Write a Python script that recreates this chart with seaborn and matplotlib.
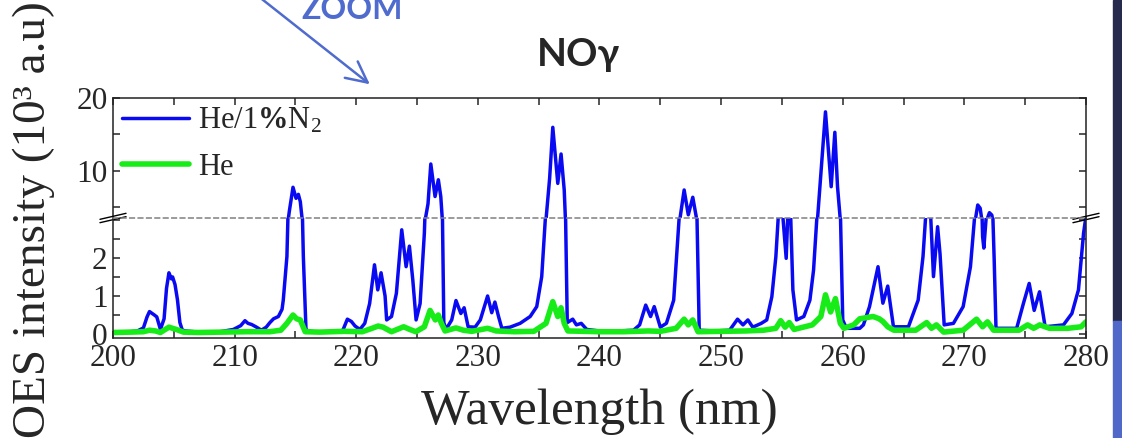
import numpy as np
import pandas as pd
import matplotlib.pyplot as plt
import seaborn as sns
from matplotlib.patches import Rectangle, FancyArrowPatch
from matplotlib.ticker import MultipleLocator, FixedLocator

# ── data (wavelength in nm, intensity in 10^3 a.u.) ───────────────────────────
wl_n2 = [200.0, 201.0, 202.0, 202.5, 202.8, 203.0, 203.4, 203.6, 203.9, 204.2,
         204.4, 204.6, 204.8, 204.9, 205.1, 205.3, 205.5, 205.7, 206.0, 207.0,
         208.0, 208.8, 209.9, 210.5, 210.85, 211.1, 211.4, 211.8, 212.2, 212.6,
         212.9, 213.2, 213.6, 213.9, 214.0, 214.3, 214.5, 214.8, 215.05, 215.24,
         215.4, 215.5, 215.65, 215.87, 216.5, 217.5, 218.5, 218.9, 219.27, 219.6,
         219.9, 220.3, 220.7, 221.1, 221.5, 221.77, 222.04, 222.37, 222.5, 222.9,
         223.3, 223.74, 224.1, 224.37, 224.65, 224.92, 225.25, 225.6, 225.9, 226.13,
         226.48, 226.75, 226.95, 227.08, 227.2, 227.38, 227.85, 228.2, 228.6, 228.87,
         229.2, 229.77, 230.2, 230.8, 231.14, 231.4, 231.7, 231.97, 232.65, 233.47,
         234.3, 234.84, 235.25, 235.6, 235.9, 236.16, 236.57, 236.84, 237.1, 237.2,
         237.35, 237.8, 238.1, 238.5, 238.95, 240.0, 241.5, 242.8, 243.3, 243.8,
         244.2, 244.5, 245.0, 245.5, 246.1, 246.6, 246.96, 247.3, 247.67, 248.0,
         248.2, 249.5, 250.7, 251.35, 251.8, 252.2, 252.6, 253.3, 253.75, 254.17,
         254.5, 254.74, 255.0, 255.35, 255.5, 255.7, 255.9, 256.2, 256.8, 257.3,
         257.6, 257.92, 258.58, 259.05, 259.35, 259.57, 259.8, 260.0, 260.3, 261.4,
         261.7, 262.2, 262.9, 263.3, 263.7, 264.17, 265.4, 266.2, 266.6, 266.86,
         267.2, 267.46, 267.8, 268.0, 268.34, 269.1, 269.9, 270.5, 270.9, 271.1,
         271.3, 271.5, 271.6, 271.85, 272.06, 272.26, 272.45, 272.6, 274.3, 274.86,
         275.33, 275.74, 276.18, 276.64, 278.15, 278.84, 279.38, 279.8, 280.0]
int_n2 = [0.05, 0.05, 0.08, 0.16, 0.45, 0.59, 0.50, 0.45, 0.12, 0.40,
          1.20, 1.61, 1.45, 1.50, 1.30, 0.90, 0.30, 0.10, 0.08, 0.05,
          0.05, 0.06, 0.12, 0.22, 0.35, 0.28, 0.25, 0.18, 0.10, 0.18,
          0.30, 0.40, 0.46, 0.65, 0.89, 2.04, 4.5, 7.77, 6.26, 6.8,
          5.8, 4.2, 2.04, 0.10, 0.06, 0.05, 0.06, 0.10, 0.39, 0.33,
          0.21, 0.12, 0.28, 0.80, 1.82, 1.16, 1.61, 1.00, 0.37, 0.46,
          1.07, 2.74, 1.77, 2.31, 1.42, 0.37, 0.80, 2.65, 5.5, 10.96,
          6.5, 8.8, 6.5, 3.3, 0.30, 0.12, 0.37, 0.88, 0.54, 0.69,
          0.19, 0.18, 0.37, 1.00, 0.56, 0.84, 0.46, 0.15, 0.18, 0.28,
          0.46, 0.72, 1.51, 3.3, 9.0, 15.98, 8.3, 12.33, 7.4, 3.3,
          0.30, 0.39, 0.24, 0.28, 0.12, 0.08, 0.08, 0.10, 0.24, 0.76,
          0.46, 0.72, 0.18, 0.28, 0.89, 3.3, 7.4, 4.0, 6.4, 3.3,
          0.10, 0.08, 0.10, 0.39, 0.24, 0.37, 0.18, 0.28, 0.37, 0.98,
          2.03, 3.3, 3.4, 1.99, 3.3, 3.3, 1.16, 0.37, 0.46, 0.89,
          1.68, 3.3, 18.1, 7.85, 15.3, 7.85, 3.3, 0.37, 0.15, 0.15,
          0.24, 0.72, 1.77, 0.81, 1.26, 0.19, 0.19, 0.89, 2.04, 3.3,
          3.3, 1.51, 2.82, 2.10, 0.24, 0.28, 0.72, 1.77, 3.3, 5.34,
          4.9, 2.56, 2.26, 3.3, 4.29, 3.95, 1.97, 0.15, 0.15, 0.81,
          1.33, 0.62, 1.11, 0.19, 0.24, 0.54, 1.16, 2.65, 3.1]

wl_he = [200.0, 201.5, 202.5, 203.0, 203.5, 203.9, 204.6, 205.2, 205.8, 207.0,
         209.0, 211.0, 212.9, 213.8, 214.3, 214.8, 215.1, 215.4, 215.8, 217.0,
         219.0, 220.5, 221.3, 221.8, 222.2, 222.9, 223.9, 224.4, 224.9, 225.6,
         226.07, 226.5, 226.75, 227.0, 227.3, 228.2, 228.8, 229.5, 230.8, 231.5,
         233.0, 234.6, 235.6, 236.16, 236.57, 236.84, 237.1, 237.4, 240.0, 242.0,
         244.0, 245.0, 246.3, 246.96, 247.3, 247.67, 248.1, 250.0, 252.0, 253.5,
         254.5, 254.9, 255.26, 255.6, 256.0, 257.5, 258.2, 258.58, 259.0, 259.4,
         259.8, 260.1, 260.9, 261.4, 261.75, 262.1, 262.5, 263.0, 263.3, 263.7,
         264.2, 266.0, 266.9, 267.3, 267.7, 268.3, 269.9, 271.0, 271.5, 271.9,
         272.4, 274.5, 275.2, 275.7, 276.2, 277.0, 278.5, 279.6, 280.0]
int_he = [0.04, 0.05, 0.06, 0.10, 0.08, 0.04, 0.18, 0.12, 0.05, 0.04,
          0.05, 0.06, 0.06, 0.10, 0.28, 0.50, 0.40, 0.37, 0.06, 0.05,
          0.07, 0.06, 0.15, 0.21, 0.18, 0.06, 0.19, 0.12, 0.06, 0.19,
          0.62, 0.37, 0.50, 0.28, 0.08, 0.16, 0.10, 0.07, 0.15, 0.08,
          0.06, 0.07, 0.28, 0.85, 0.46, 0.69, 0.28, 0.08, 0.06, 0.06,
          0.08, 0.07, 0.15, 0.39, 0.24, 0.37, 0.06, 0.07, 0.08, 0.10,
          0.15, 0.35, 0.18, 0.30, 0.12, 0.24, 0.46, 1.03, 0.58, 0.93,
          0.28, 0.15, 0.24, 0.40, 0.42, 0.44, 0.46, 0.40, 0.33, 0.19,
          0.10, 0.10, 0.30, 0.15, 0.24, 0.05, 0.10, 0.39, 0.19, 0.32,
          0.10, 0.10, 0.24, 0.15, 0.24, 0.15, 0.15, 0.19, 0.32]

label_n2 = r'He/1$\mathbf{\%}$N$_2$'
label_he = 'He'
low_ticks = [0, 1, 2, 3]
low_ticklabels = ['0', '1', '2', '']
high_ticks = [10, 20]

# ── style ─────────────────────────────────────────────────────────────────────
sns.set_style('ticks')
plt.rcParams['font.family'] = ['Liberation Serif', 'DejaVu Serif']
plt.rcParams['mathtext.fontset'] = 'custom'
plt.rcParams['mathtext.rm'] = 'Liberation Serif'
plt.rcParams['mathtext.it'] = 'Liberation Serif:italic'
plt.rcParams['mathtext.bf'] = 'Liberation Serif:bold'

blue = '#0a0af2'
green = '#18ec18'
accent = '#4f6bcd'

df_n2 = pd.DataFrame({'wl': wl_n2, 'val': int_n2})
df_he = pd.DataFrame({'wl': wl_he, 'val': int_he})

fig = plt.figure(figsize=(11.22, 4.38), dpi=100)
left, width, h = 0.10071, 0.86720, 0.27397
ax_hi = fig.add_axes([left, 0.22831 + h, width, h])
ax_lo = fig.add_axes([left, 0.22831, width, h])

for ax in (ax_hi, ax_lo):
    sns.lineplot(data=df_n2, x='wl', y='val', ax=ax, color=blue, lw=2.5,
                 sort=False, estimator=None, label=label_n2 if ax is ax_hi else None)
    sns.lineplot(data=df_he, x='wl', y='val', ax=ax, color=green, lw=4.0,
                 sort=False, estimator=None, label=label_he if ax is ax_hi else None)
    ax.set_xlim(200, 280)
    ax.set_xlabel('')
    ax.set_ylabel('')
    ax.xaxis.set_major_locator(MultipleLocator(10))
    ax.xaxis.set_minor_locator(MultipleLocator(5))
    ax.tick_params(which='both', direction='in', length=5, width=1.1,
                   labelsize=22.5, pad=4, left=True, right=True)
    for s in ax.spines.values():
        s.set_linewidth(1.1)
        s.set_color('#222222')

ax_lo.set_ylim(-0.105, 3.05)
ax_lo.yaxis.set_major_locator(FixedLocator(low_ticks))
ax_lo.set_yticklabels(low_ticklabels)
ax_lo.yaxis.set_minor_locator(MultipleLocator(0.5))
ax_lo.tick_params(axis='x', which='both', top=False, bottom=True)
ax_lo.spines['top'].set_linestyle((0, (3, 2.5)))
ax_lo.spines['top'].set_color('#808080')
if ax_lo.get_legend():
    ax_lo.get_legend().remove()

ax_hi.set_ylim(3.56, 20)
ax_hi.yaxis.set_major_locator(FixedLocator(high_ticks))
ax_hi.yaxis.set_minor_locator(MultipleLocator(5))
ax_hi.tick_params(axis='x', which='both', top=True, bottom=False, labelbottom=False)
ax_hi.spines['bottom'].set_visible(False)

ax_hi.legend(loc='upper left', bbox_to_anchor=(0.009, 0.93), frameon=False,
             fontsize=22, handlelength=2.2, handletextpad=0.3, labelspacing=0.55,
             borderpad=0, borderaxespad=0)

# break marks on both sides
dx, dy = 0.0134, 0.025
for xs in (0, 1):
    for off in (-0.014, 0.014):
        ax_lo.plot([xs - dx, xs + dx], [1 - dy + off, 1 + dy + off], color='black',
                   lw=1.0, transform=ax_lo.transAxes, clip_on=False)

# texts
fig.text(578 / 1122, 1 - 55 / 438, 'NOγ', ha='center', va='center', fontsize=28,
         fontweight='bold', family=['Lato', 'DejaVu Sans'])
fig.text(352 / 1122, 1 - 9.5 / 438, 'ZOOM', ha='center', va='center', fontsize=23,
         fontweight='bold', color=accent, family=['Lato', 'DejaVu Sans'])
fig.add_artist(FancyArrowPatch((258 / 1122, 1 + 4 / 438), (372 / 1122, 1 - 86 / 438),
                               transform=fig.transFigure, color=accent, lw=1.8,
                               arrowstyle='->,head_length=0.6,head_width=0.3',
                               mutation_scale=25))
fig.text(34 / 1122, 1 - 220 / 438, 'OES intensity (10³ a.u)', rotation=90,
         ha='center', va='center', fontsize=34)
fig.text(599 / 1122, 1 - 424 / 438, 'Wavelength (nm)', ha='center', va='baseline',
         fontsize=37)

# slide edge on the right
fig.patches.append(Rectangle((1113 / 1122, 1 - 321 / 438), 9 / 1122, 321 / 438,
                             transform=fig.transFigure, color='#262a4c', zorder=0))
fig.patches.append(Rectangle((1113 / 1122, 0), 9 / 1122, 1 - 321 / 438,
                             transform=fig.transFigure, color='#5068c8', zorder=0))

fig.savefig('out.png', dpi=100)
